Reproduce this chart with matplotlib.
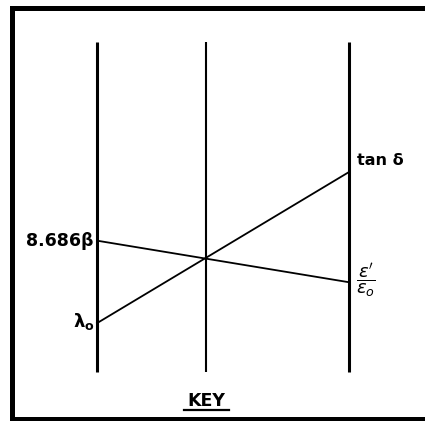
import matplotlib
matplotlib.use("Agg")
import matplotlib.pyplot as plt

# Nomograph key: three vertical scales, two index lines
axis_names = ["left", "middle", "right"]
axis_pos = [0.0, 0.433, 1.0]          # horizontal position of each scale
scale_bottom, scale_top = 0.0, 1.0

# points on the outer scales (0 = bottom of scale, 1 = top)
left_labels = ["8.686β", "$\\mathbf{\\lambda}_{\\mathbf{o}}$"]
left_values = [0.398, 0.148]
right_labels = ["tan δ", "$\\dfrac{\\varepsilon'}{\\varepsilon_o}$"]
right_values = [0.272, 0.606]        # 8.686β -> ε'/ε0 ; λ0 -> tan δ
title = "KEY"

W, H = 425, 421
fig = plt.figure(figsize=(W / 100, H / 100), dpi=100)
ax = fig.add_axes([0, 0, 1, 1])
# pixel mapping: x=0 -> 97px, x=1 -> 349px ; y=0 -> 372px, y=1 -> 42px
sx, x0 = 252.0, 97.0
sy, y0 = 330.0, 372.0
ax.set_xlim(-x0 / sx, (W - x0) / sx)
ax.set_ylim((y0 - H) / sy, y0 / sy)
ax.axis("off")

def px(v):
    return (v - x0) / sx

def py(v):
    return (y0 - v) / sy

# frame (open on the right)
ax.plot([1.4, px(11.5), px(11.5), 1.4], [py(8), py(8), py(419), py(419)],
        color="black", lw=3.6, solid_joinstyle="miter", solid_capstyle="butt",
        clip_on=False)

# scales
widths = [2.2, 1.5, 2.2]
for xp, lw in zip(axis_pos, widths):
    ax.plot([xp, xp], [scale_bottom, scale_top], color="black", lw=lw,
            solid_capstyle="butt")

# index lines
for lv, rv in zip(left_values, right_values):
    ax.plot([axis_pos[0], axis_pos[2]], [lv, rv], color="black", lw=1.3)

# labels
ax.text(axis_pos[0] - 0.015, left_values[0], left_labels[0], ha="right",
        va="center", fontsize=12.5, fontweight="bold", family="DejaVu Sans")
ax.text(axis_pos[0] - 0.01, left_values[1] + 0.005, left_labels[1], ha="right",
        va="center", fontsize=13, fontweight="bold")
ax.text(axis_pos[2] + 0.03, right_values[1] + 0.035, right_labels[0], ha="left",
        va="center", fontsize=11.5, fontweight="bold", family="DejaVu Sans")
ax.text(axis_pos[2] + 0.028, right_values[0] + 0.006, right_labels[1], ha="left",
        va="center", fontsize=13)

t = ax.text(axis_pos[1], py(401), title, ha="center", va="center",
            fontsize=12.5, fontweight="bold")
ax.plot([px(184), px(229)], [py(410), py(410)], color="black", lw=1.6)

fig.savefig("out.png", dpi=100)
